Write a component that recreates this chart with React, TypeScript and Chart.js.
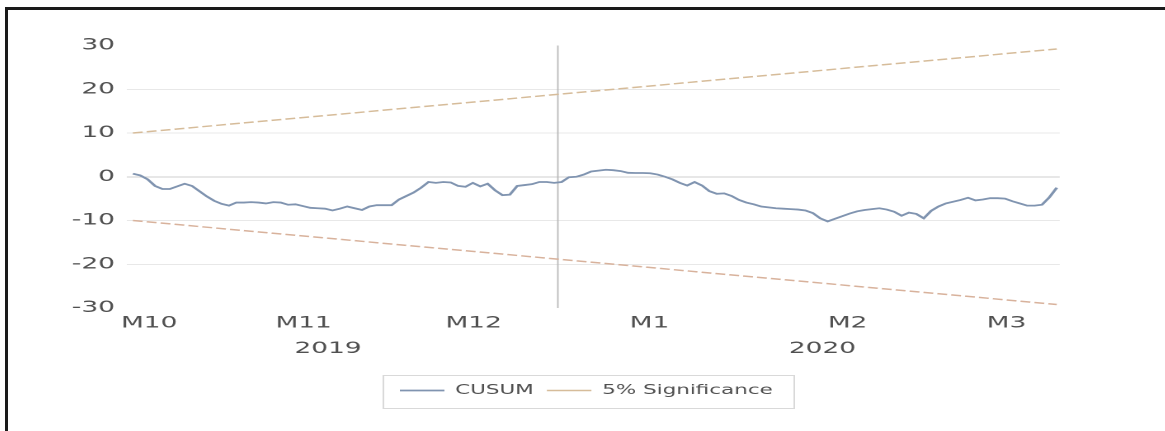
import { useEffect, useRef } from "react";
import { Chart, registerables } from "chart.js";

Chart.register(...registerables);

// CUSUM statistic, one value per trading day (Oct 2019 - Mar 2020)
const cusumValues = [
  0.7, 0.3, -0.6, -2.1, -2.8, -2.8, -2.2, -1.6, -2.1, -3.3,
  -4.5, -5.5, -6.2, -6.6, -5.9, -5.9, -5.8, -5.9, -6.1, -5.8,
  -5.9, -6.4, -6.3, -6.7, -7.1, -7.2, -7.3, -7.7, -7.3, -6.8,
  -7.2, -7.6, -6.8, -6.5, -6.5, -6.5, -5.2, -4.4, -3.6, -2.5,
  -1.2, -1.4, -1.2, -1.3, -2.1, -2.3, -1.4, -2.2, -1.6, -3.1,
  -4.2, -4.1, -2.1, -1.9, -1.7, -1.2, -1.2, -1.4, -1.2, -0.1,
  0.0, 0.5, 1.2, 1.4, 1.6, 1.5, 1.3, 0.9, 0.85, 0.85,
  0.8, 0.5, 0.0, -0.6, -1.4, -2.0, -1.2, -2.0, -3.3, -3.9,
  -3.8, -4.4, -5.3, -5.9, -6.3, -6.8, -7.0, -7.2, -7.3, -7.4,
  -7.5, -7.7, -8.3, -9.5, -10.2, -9.6, -9.0, -8.4, -7.9, -7.6,
  -7.4, -7.2, -7.5, -8.0, -8.9, -8.2, -8.5, -9.5, -7.8, -6.8,
  -6.1, -5.7, -5.3, -4.8, -5.4, -5.2, -4.9, -4.9, -5.0, -5.6,
  -6.1, -6.6, -6.6, -6.4, -4.7, -2.5,
];

// 5% significance bounds (straight lines between first and last observation)
const boundIndex = [0, 125];
const significanceUpper = [10.0, 29.2];
const significanceLower = [-10.0, -29.2];

// Vertical marker
const breakIndex = 57.5;

// Axis labels
const monthTickPos = [2.2, 23.1, 46.1, 69.9, 96.7, 118.2];
const monthLabels = ["M10", "M11", "M12", "M1", "M2", "M3"];
const yearTickPos = [26.4, 93.3];
const yearLabels = ["2019", "2020"];
const yMin = -30;
const yMax = 30;
const yStep = 10;

const STRETCH = 1.65;
const CW = 701;
const CH = 421;
const X_MIN = -0.8;
const X_MAX = 125.4;

const TEXT = "#505050";
const FONT = "'DejaVu Sans', sans-serif";

export default function App() {
  const ref = useRef<HTMLCanvasElement>(null);

  useEffect(() => {
    const canvas = ref.current;
    if (!canvas) return;

    const legendFrame = {
      id: "legendFrame",
      afterDraw(chart: any) {
        const boxes = chart.legend?.legendHitBoxes;
        if (!boxes || !boxes.length) return;
        let l = Infinity;
        let r = -Infinity;
        let cy = 0;
        boxes.forEach((b: any) => {
          l = Math.min(l, b.left);
          r = Math.max(r, b.left + b.width);
          cy += b.top + b.height / 2;
        });
        cy /= boxes.length;
        const ctx = chart.ctx;
        ctx.save();
        ctx.strokeStyle = "#d9d9d9";
        ctx.lineWidth = 1;
        ctx.strokeRect(l - 10, Math.round(cy - 16) + 0.5, r - l + 23, 33);
        ctx.restore();
      },
    };

    const chart = new Chart(canvas, {
      type: "line",
      data: {
        datasets: [
          {
            label: "CUSUM",
            data: cusumValues.map((v, i) => ({ x: i, y: v })),
            borderColor: "#8094b0",
            backgroundColor: "#8094b0",
            borderWidth: 1.8,
            pointRadius: 0,
            tension: 0,
          },
          {
            label: "5% Significance",
            data: boundIndex.map((x, i) => ({ x, y: significanceUpper[i] })),
            borderColor: "#d6bc9a",
            backgroundColor: "#d6bc9a",
            borderWidth: 1.5,
            borderDash: [6, 2.5],
            pointRadius: 0,
          },
          {
            label: "5% Significance lower",
            data: boundIndex.map((x, i) => ({ x, y: significanceLower[i] })),
            borderColor: "#d8b29c",
            backgroundColor: "#d8b29c",
            borderWidth: 1.5,
            borderDash: [6, 2.5],
            pointRadius: 0,
          },
          {
            label: "marker",
            data: [
              { x: breakIndex, y: yMin },
              { x: breakIndex, y: yMax },
            ],
            borderColor: "#b8b8b8",
            borderWidth: 0.9,
            pointRadius: 0,
          },
        ],
      },
      options: {
        animation: false,
        responsive: false,
        maintainAspectRatio: false,
        devicePixelRatio: 2,
        layout: { padding: { top: 35.5, bottom: 24, left: 0, right: 0 } },
        plugins: {
          tooltip: { enabled: false },
          legend: {
            position: "bottom",
            labels: {
              usePointStyle: true,
              pointStyle: "line",
              pointStyleWidth: 27,
              padding: 8,
              color: TEXT,
              font: { family: FONT, size: 13 },
              filter: (item: any) => item.datasetIndex <= 1,
            },
          },
        },
        scales: {
          x: {
            type: "linear",
            position: "bottom",
            weight: 0,
            min: X_MIN,
            max: X_MAX,
            bounds: "data",
            grid: { display: false },
            border: { display: false },
            afterBuildTicks: (s: any) => {
              s.ticks = monthTickPos.map((v) => ({ value: v }));
            },
            afterFit: (s: any) => {
              s.height = 24;
            },
            ticks: {
              autoSkip: false,
              maxRotation: 0,
              padding: -2.5,
              color: TEXT,
              font: { family: FONT, size: 16 },
              callback: (_v: any, i: number) => monthLabels[i] ?? "",
            },
          },
          x2: {
            type: "linear",
            position: "bottom",
            weight: 1,
            min: X_MIN,
            max: X_MAX,
            bounds: "data",
            grid: { display: false },
            border: { display: false },
            afterBuildTicks: (s: any) => {
              s.ticks = yearTickPos.map((v) => ({ value: v }));
            },
            afterFit: (s: any) => {
              s.height = 44;
            },
            ticks: {
              autoSkip: false,
              maxRotation: 0,
              padding: -1,
              color: TEXT,
              font: { family: FONT, size: 16 },
              callback: (_v: any, i: number) => yearLabels[i] ?? "",
            },
          },
          y: {
            type: "linear",
            position: "left",
            min: yMin,
            max: yMax,
            border: { display: false },
            grid: {
              drawTicks: false,
              lineWidth: 1,
              color: (ctx: any) => {
                const v = ctx.tick?.value;
                if (v === yMin || v === yMax) return "rgba(0,0,0,0)";
                if (v === 0) return "#cfcfcf";
                return "#e8e8e8";
              },
            },
            afterFit: (s: any) => {
              s.width = 72.1;
            },
            ticks: {
              stepSize: yStep,
              padding: 7.3,
              color: TEXT,
              font: { family: FONT, size: 16 },
              callback: (v: any) => String(v),
            },
          },
          yR: {
            type: "linear",
            position: "right",
            display: true,
            grid: { display: false },
            border: { display: false },
            ticks: { display: false },
            afterFit: (s: any) => {
              s.width = 63.6;
            },
          },
        },
      },
      plugins: [legendFrame],
    } as any);

    return () => chart.destroy();
  }, []);

  return (
    <div
      style={{
        position: "fixed",
        left: 5,
        top: 7,
        right: 0,
        bottom: 0,
        borderTop: "3px solid #1a1a1a",
        borderLeft: "3px solid #1a1a1a",
        background: "#fff",
        overflow: "hidden",
      }}
    >
      <div
        style={{
          width: CW,
          height: CH,
          transform: `scaleX(${STRETCH})`,
          transformOrigin: "0 0",
        }}
      >
        <canvas
          ref={ref}
          width={CW}
          height={CH}
          style={{ display: "block", width: CW, height: CH }}
        />
      </div>
    </div>
  );
}
